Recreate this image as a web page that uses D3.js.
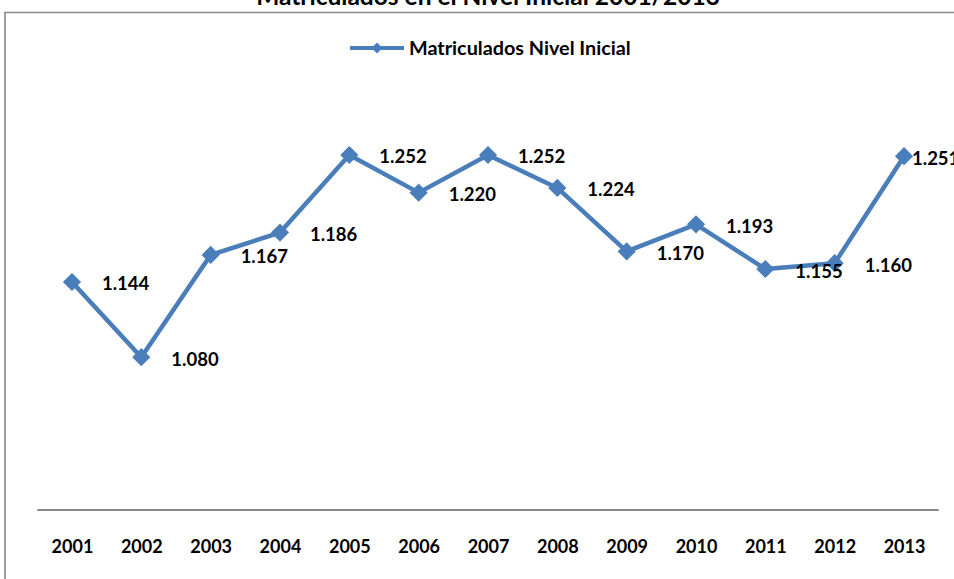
<!DOCTYPE html>
<html>
<head>
<meta charset="utf-8">
<script src="https://cdn.jsdelivr.net/npm/d3@7"></script>
<style>
  body { margin: 0; background: #fff; }
  svg { display: block; font-family: Lato, "Open Sans", sans-serif; font-weight: bold; }
</style>
</head>
<body>
<div id="container"></div>
<script>
// data
const years = ["2001","2002","2003","2004","2005","2006","2007","2008","2009","2010","2011","2012","2013"];
const matriculados = [1.144, 1.080, 1.167, 1.186, 1.252, 1.220, 1.252, 1.224, 1.170, 1.193, 1.155, 1.160, 1.251];
const yDomain = [0.95, 1.30];
const seriesName = "Matriculados Nivel Inicial";
const chartTitle = "Matriculados en el Nivel Inicial 2001/2013";

// chart
const width = 954,
height = 579,
plot = {left: 37.3, right: 938.7, top: 98.6, bottom: 510},
blue = "#4a7ebb",
grey = "#888";

const data = years.map((y, i) => ({year: y, value: matriculados[i]}));

const svg = d3.select("#container").append("svg")
  .attr("width", width)
  .attr("height", height);

// scales
const xScale = d3.scalePoint()
  .domain(years)
  .range([plot.left, plot.right])
  .padding(0.5);

const yScale = d3.scaleLinear()
  .domain(yDomain)
  .range([plot.bottom, plot.top]);

// chart frame (cropped on the right and bottom)
svg.append("path")
  .attr("d", `M${width + 10},12.5 H5 V${height + 10}`)
  .attr("fill", "none")
  .attr("stroke", grey)
  .attr("stroke-width", 1.6);

// title, half cut off at the top
svg.append("text")
  .attr("x", 488)
  .attr("y", 5)
  .attr("text-anchor", "middle")
  .attr("font-size", "24.5px")
  .text(chartTitle);

// x axis
const xAxis = d3.axisBottom(xScale).tickSize(0).tickPadding(30);
const xAxisGroup = svg.append("g")
  .attr("transform", `translate(0,${plot.bottom})`)
  .call(xAxis);
xAxisGroup.select(".domain")
  .attr("d", `M${plot.left},0 H${plot.right}`)
  .attr("stroke", grey)
  .attr("stroke-width", 2.2);
xAxisGroup.selectAll(".tick text")
  .attr("font-family", "Lato, sans-serif")
  .attr("font-weight", "bold")
  .attr("font-size", "18px")
  .attr("fill", "#000")
  .attr("dy", "0.71em");

// line
const line = d3.line()
  .x(d => xScale(d.year))
  .y(d => yScale(d.value));

svg.append("path")
  .datum(data)
  .attr("d", line)
  .attr("fill", "none")
  .attr("stroke", blue)
  .attr("stroke-width", 4.5)
  .attr("stroke-linejoin", "round");

// diamond markers
const marker = d3.symbol(d3.symbolSquare, 165);
svg.selectAll("path.dot")
  .data(data)
  .join("path")
  .attr("class", "dot")
  .attr("d", marker)
  .attr("transform", d => `translate(${xScale(d.year)},${yScale(d.value)}) rotate(45)`)
  .attr("fill", blue);

// data labels to the right of each point (last one squeezed in by the edge)
svg.selectAll("text.label")
  .data(data)
  .join("text")
  .attr("class", "label")
  .attr("x", (d, i) => xScale(d.year) + (i === data.length - 1 ? 8 : 30))
  .attr("y", d => yScale(d.value) + 2)
  .attr("dy", "0.35em")
  .attr("font-size", "18.5px")
  .attr("fill", "#000")
  .text(d => d3.format(".3f")(d.value));

// legend
const legend = svg.append("g").attr("transform", "translate(350,48)");
legend.append("line")
  .attr("x1", 0).attr("x2", 54)
  .attr("stroke", blue)
  .attr("stroke-width", 4);
legend.append("path")
  .attr("d", d3.symbol(d3.symbolSquare, 60))
  .attr("transform", "translate(27,0) rotate(45)")
  .attr("fill", blue);
legend.append("text")
  .attr("x", 59)
  .attr("dy", "0.35em")
  .attr("font-size", "19.8px")
  .text(seriesName);
</script>
</body>
</html>
